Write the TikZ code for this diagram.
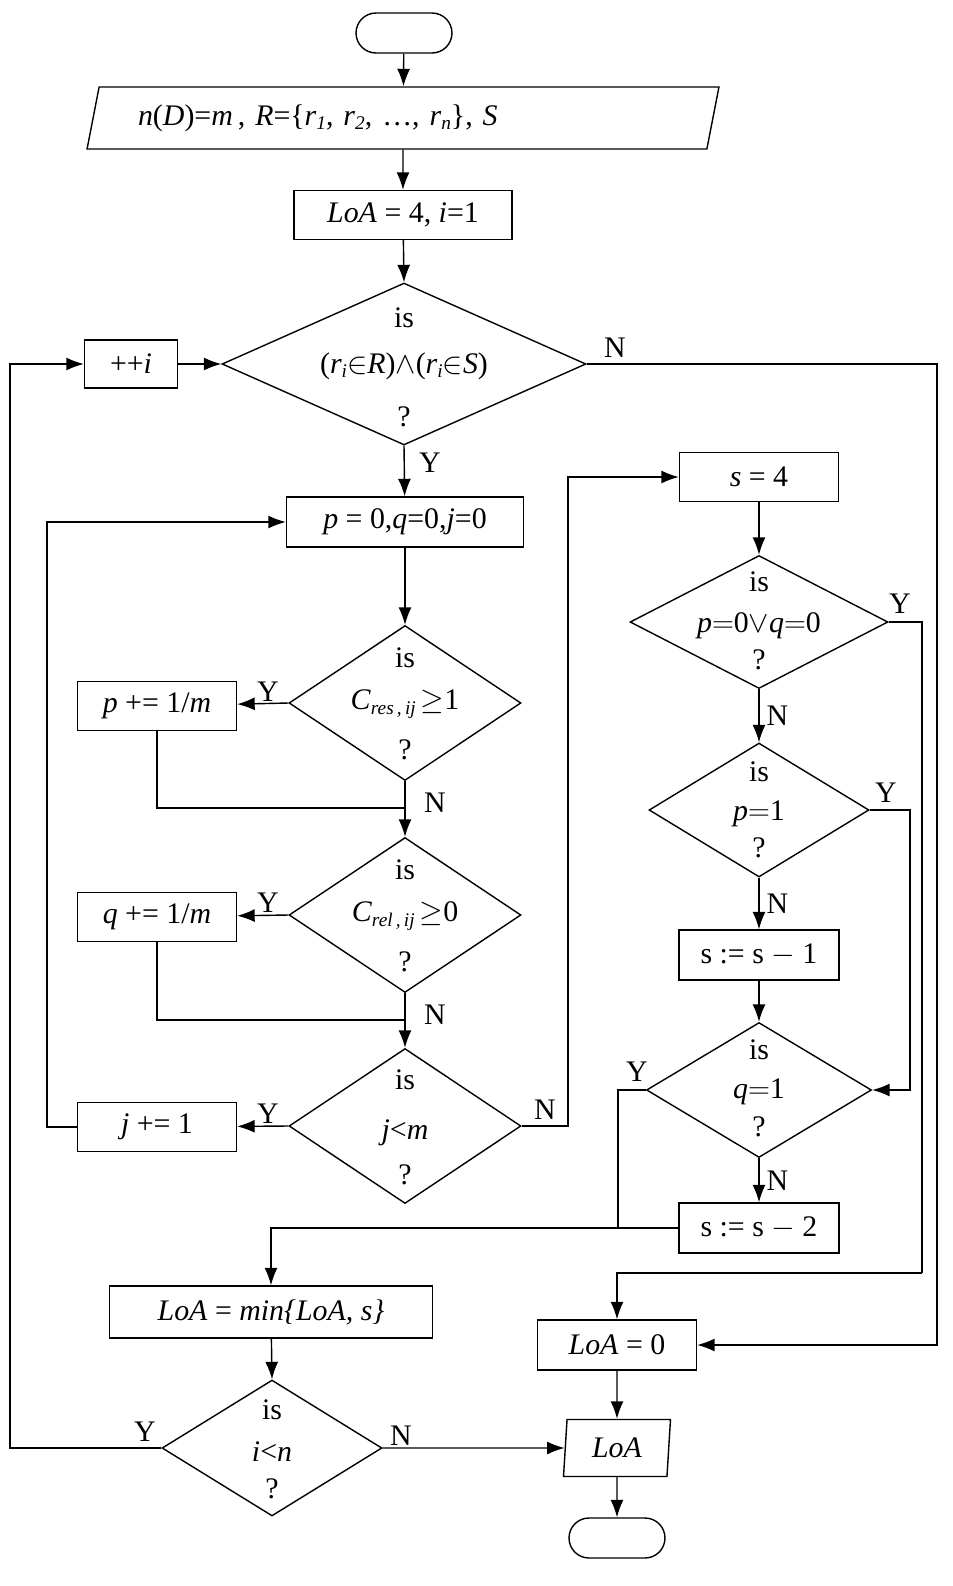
\documentclass[tikz,border=0pt]{standalone}
\usepackage{fontspec}
\setmainfont{Liberation Serif}
\usetikzlibrary{shapes.geometric,arrows.meta}
\newcommand{\lowsub}[1]{\raisebox{-0.35ex}{\fontsize{11}{11}\selectfont\textit{#1}}}
\tikzset{
  box/.style = {draw, thick, minimum width=3.18cm, minimum height=0.98cm, inner sep=0pt},
  term/.style = {draw, thick, rounded corners=0.4cm, minimum width=1.92cm, minimum height=0.8cm},
  dia/.style = {draw, thick, diamond, inner sep=0pt},
  io/.style = {draw, thick, trapezium, trapezium stretches body, inner sep=0pt},
  arr/.style = {thick, -{Latex[length=3.5mm,width=2.6mm]}},
  line/.style = {thick},
  yn/.style = {inner sep=1pt}
}
\begin{document}
\begin{tikzpicture}[x=0.02cm, y=-0.02cm, font=\fontsize{17}{20}\selectfont]
  \useasboundingbox (0,0) rectangle (953,1586);
  % left column
  \node[term] (start) at (404,33) {};
  \node[io, trapezium left angle=66, trapezium right angle=114, minimum width=12.64cm, minimum height=1.24cm, text width=10.6cm, align=left] (input) at (403,118)
    {\textit{n}(\textit{D})=\textit{m}\,, \textit{R}=\{\textit{r}\lowsub{1}, \textit{r}\lowsub{2}, \dots, \textit{r}\lowsub{n}\}, \textit{S}};
  \node[box, minimum width=4.36cm] (init) at (403,215) {\textit{LoA} = 4, \textit{i}=1};
  \node[dia, minimum width=7.28cm, minimum height=3.24cm] (d1) at (404,364) {};
  \node at (404,318) {is};
  \node at (404,366) {(\textit{r}\lowsub{i}$\in$\textit{R})$\wedge$(\textit{r}\lowsub{i}$\in$\textit{S})};
  \node at (404,417) {?};
  \node[box, minimum width=1.86cm, minimum height=0.96cm] (inci) at (131,364) {++\textit{i}};
  \node[box, minimum width=4.74cm, minimum height=1.0cm] (reset) at (405,522) {\textit{p} = 0,\textit{q}=0,\textit{j}=0};
  \node[dia, minimum width=4.64cm, minimum height=3.1cm] (d2) at (405,703) {};
  \node at (405,658) {is};
  \node at (405,704) {\textit{C}\lowsub{res\,,\,ij}\,$\geq$1};
  \node at (405,750) {?};
  \node[box] (incp) at (157,706) {\textit{p} += 1/\textit{m}};
  \node[dia, minimum width=4.64cm, minimum height=3.1cm] (d3) at (405,915) {};
  \node at (405,870) {is};
  \node at (405,916) {\textit{C}\lowsub{rel\,,\,ij}\,$\geq$0};
  \node at (405,962) {?};
  \node[box] (incq) at (157,917) {\textit{q} += 1/\textit{m}};
  \node[dia, minimum width=4.64cm, minimum height=3.1cm] (d4) at (405,1126) {};
  \node at (405,1080) {is};
  \node at (405,1133) {\textit{j}<\textit{m}};
  \node at (405,1175) {?};
  \node[box] (incj) at (157,1127) {\textit{j} += 1};
  % right column
  \node[box] (sfour) at (759,477) {\textit{s} = 4};
  \node[dia, minimum width=5.16cm, minimum height=2.66cm] (d5) at (759,622) {};
  \node at (759,582) {is};
  \node at (759,626) {\textit{p}$=$0$\vee$\textit{q}$=$0};
  \node at (759,660) {?};
  \node[dia, minimum width=4.4cm, minimum height=2.68cm] (d6) at (759,810) {};
  \node at (759,772) {is};
  \node at (759,814) {\textit{p}$=$1};
  \node at (759,848) {?};
  \node[box, minimum width=3.2cm, minimum height=1.0cm] (sone) at (759,955) {s := s $-$ 1};
  \node[dia, minimum width=4.5cm, minimum height=2.7cm] (d7) at (759,1090) {};
  \node at (759,1050) {is};
  \node at (759,1092) {\textit{q}$=$1};
  \node at (759,1127) {?};
  \node[box, minimum width=3.2cm, minimum height=1.0cm] (stwo) at (759,1228) {s := s $-$ 2};
  % bottom
  \node[box, minimum width=6.46cm, minimum height=1.04cm] (loamin) at (271,1312) {\textit{LoA} = \textit{min\{LoA, s\}}};
  \node[box, minimum height=1.0cm] (loazero) at (617,1345) {\textit{LoA} = 0};
  \node[dia, minimum width=4.4cm, minimum height=2.72cm] (d8) at (272,1448) {};
  \node at (272,1410) {is};
  \node at (272,1452) {\textit{i}<\textit{n}};
  \node at (272,1489) {?};
  \node[io, trapezium left angle=80, trapezium right angle=100, minimum width=2.14cm, minimum height=1.14cm] (output) at (617,1448) {\textit{LoA}};
  \node[term] (stop) at (617,1538) {};

  \coordinate (rn) at (937,364);
  \coordinate (ry) at (922,622);
  \coordinate (rz) at (922,1273);
  \coordinate (loop) at (10,1448);
  \coordinate (jl) at (47,1127);
  \coordinate (nj) at (568,1126);
  \coordinate (pm) at (157,808);
  \coordinate (qm) at (157,1020);
  \coordinate (py) at (910,810);
  \coordinate (qy) at (618,1090);

  \draw[arr] (start) -- (input);
  \draw[arr] (input) -- (init);
  \draw[arr] (init) -- (d1.north);
  \draw[arr] (d1.south) -- (reset);
  \node[yn] at (430,463) {Y};
  \draw[arr] (d1.east) -- (rn) |- (loazero.east);
  \node[yn] at (615,348) {N};
  \draw[arr] (inci) -- (d1.west);
  \draw[arr] (d8.west) -- (loop) |- (inci.west);
  \node[yn] at (145,1432) {Y};
  \draw[arr] (reset) -- (d2.north);
  \draw[arr] (d2.west) -- (incp) node[yn, pos=0.4, above] {Y};
  \draw[line] (incp) -- (pm) -- (pm -| d2.south);
  \draw[arr] (d2.south) -- (d3.north);
  \node[yn] at (435,803) {N};
  \draw[arr] (d3.west) -- (incq) node[yn, pos=0.4, above] {Y};
  \draw[line] (incq) -- (qm) -- (qm -| d3.south);
  \draw[arr] (d3.south) -- (d4.north);
  \node[yn] at (435,1015) {N};
  \draw[arr] (d4.west) -- (incj) node[yn, pos=0.4, above] {Y};
  \draw[arr] (incj.west) -- (jl) |- (reset.west);
  \draw[arr] (d4.east) -- (nj) |- (sfour.west);
  \node[yn] at (545,1110) {N};
  \draw[arr] (sfour) -- (d5.north);
  \draw[line] (d5.east) -- (ry) -- (rz);
  \draw[arr] (rz) -| (loazero.north);
  \node[yn] at (900,604) {Y};
  \draw[arr] (d5.south) -- (d6.north) node[yn, pos=0.5, right=3pt] {N};
  \draw[arr] (d6.east) -- (py) |- (d7.east);
  \node[yn] at (886,793) {Y};
  \draw[arr] (d6.south) -- (sone) node[yn, pos=0.5, right=3pt] {N};
  \draw[arr] (sone) -- (d7.north);
  \draw[arr] (d7.south) -- (stwo) node[yn, pos=0.5, right=3pt] {N};
  \draw[line] (d7.west) -- (qy) -- (qy |- stwo.west);
  \node[yn] at (637,1072) {Y};
  \draw[arr] (stwo.west) -| (loamin.north);
  \draw[arr] (loamin) -- (d8.north);
  \draw[arr] (d8.east) -- (output) node[yn, pos=0.1, above] {N};
  \draw[arr] (loazero) -- (output);
  \draw[arr] (output) -- (stop);
\end{tikzpicture}
\end{document}
